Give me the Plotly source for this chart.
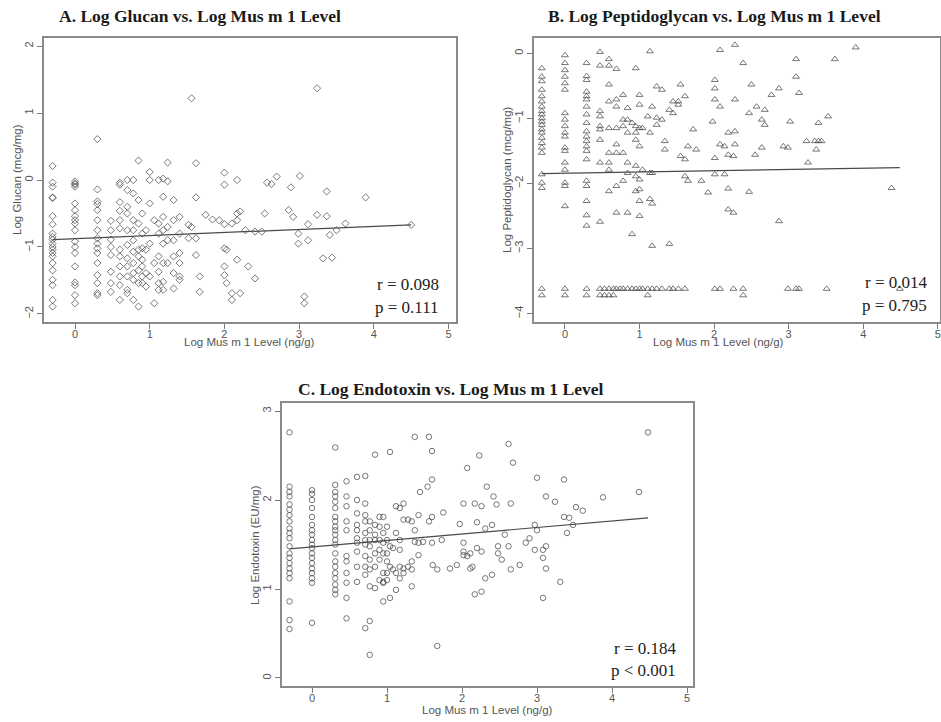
import plotly.graph_objects as go

# ---------------- Panel A: Log Glucan ----------------
glucan_x_levels = [-0.30, 0.00, 0.30, 0.48, 0.60, 0.70, 0.78, 0.85, 0.90, 0.95, 1.00, 1.06, 1.12, 1.18,
                   1.24, 1.32, 1.40, 1.52, 1.56, 1.62, 1.67, 1.75, 1.84, 1.93, 2.00, 2.03, 2.10, 2.17,
                   2.21, 2.28, 2.32, 2.41, 2.50, 2.54, 2.57, 2.63, 2.70, 2.86, 2.89, 2.92, 2.99, 3.01,
                   3.07, 3.12, 3.24, 3.32, 3.37, 3.41, 3.44, 3.50, 3.62, 3.89, 4.50]
glucan_y_by_level = [
    [0.21, -0.04, -0.10, -0.26, -0.27, -0.54, -0.66, -0.80, -0.85, -0.89, -0.95, -1.00, -1.04, -1.09, -1.14, -1.24, -1.35, -1.49, -1.57, -1.79, -1.89],
    [-0.02, -0.05, -0.07, -0.10, -0.35, -0.45, -0.54, -0.60, -0.65, -0.75, -0.92, -1.00, -1.09, -1.29, -1.53, -1.57, -1.72, -1.84],
    [0.61, -0.14, -0.32, -0.36, -0.45, -0.60, -0.75, -0.87, -0.95, -1.02, -1.09, -1.24, -1.42, -1.54, -1.69, -1.72],
    [-0.61, -0.75, -0.89, -1.00, -1.12, -1.37, -1.54, -1.67],
    [-0.04, -0.07, -0.33, -0.46, -0.60, -0.72, -1.04, -1.14, -1.29, -1.44, -1.57, -1.79],
    [0.00, -0.15, -0.40, -0.50, -0.75, -0.97, -1.17, -1.29, -1.44, -1.64, -1.69],
    [0.00, -0.20, -0.60, -0.75, -0.90, -1.07, -1.24, -1.39, -1.49, -1.79],
    [0.29, -0.30, -0.65, -1.04, -1.14, -1.35, -1.54, -1.89],
    [-0.50, -0.80, -1.02, -1.19, -1.29, -1.44, -1.54],
    [-0.75, -1.04, -1.39, -1.59],
    [0.12, 0.00, -0.35, -0.95, -1.44],
    [-0.60, -1.24, -1.84],
    [0.00, -0.65, -0.80, -1.14, -1.37, -1.54, -1.64],
    [0.02, -0.25, -0.55, -0.75, -0.95, -1.24, -1.52, -1.64],
    [0.26, -0.02, -0.70, -0.90, -1.24],
    [-0.30, -0.60, -0.90, -1.14, -1.39, -1.62],
    [-0.55, -0.80, -1.09, -1.24, -1.44, -1.49],
    [-0.87, -0.67],
    [1.22, -0.70],
    [0.25, -0.26, -0.87, -1.12],
    [-1.44, -1.67],
    [-0.52],
    [-0.59],
    [-0.60],
    [0.11, -0.07, -0.66, -1.02, -1.29, -1.42],
    [-1.04, -1.54],
    [-0.65, -1.69, -1.79],
    [0.00, -0.50, -0.60, -1.19],
    [-0.47, -1.69],
    [-0.75],
    [-1.29],
    [-0.77, -1.47],
    [-0.77],
    [-0.50],
    [-0.04],
    [-0.06],
    [0.05],
    [-0.45],
    [-0.11],
    [-0.55],
    [-0.80, -0.95],
    [0.06],
    [-1.74, -1.84],
    [-0.66, -0.90],
    [1.37, -0.52],
    [-1.17],
    [-0.17, -0.54],
    [-0.82],
    [-1.16],
    [-0.75],
    [-0.65],
    [-0.26],
    [-0.67],
]
glucan_fit = {"intercept": -0.876, "slope": 0.046, "x0": -0.30, "x1": 4.50}

# ---------------- Panel B: Log Peptidoglycan ----------------
pepti_x_levels = [-0.31, 0.00, 0.29, 0.47, 0.53, 0.59, 0.65, 0.69, 0.74, 0.78, 0.84, 0.90, 0.95, 1.00, 1.04,
                  1.11, 1.14, 1.17, 1.23, 1.30, 1.34, 1.40, 1.45, 1.52, 1.55, 1.61, 1.65, 1.72, 1.76,
                  1.83, 1.92, 1.98, 2.01, 2.08, 2.14, 2.19, 2.26, 2.28, 2.39, 2.47, 2.50, 2.55, 2.57,
                  2.64, 2.68, 2.77, 2.87, 2.93, 2.99, 3.02, 3.10, 3.14, 3.24, 3.26, 3.35, 3.37, 3.40,
                  3.44, 3.51, 3.53, 3.62, 3.90, 4.38, 4.49]
pepti_y_by_level = [
    [-0.23, -0.36, -0.43, -0.56, -0.66, -0.74, -0.82, -0.89, -0.94, -1.00, -1.05, -1.10, -1.17, -1.22, -1.30, -1.38, -1.45, -1.53, -1.86, -1.99, -2.07, -3.62, -3.72],
    [-0.03, -0.15, -0.26, -0.36, -0.46, -0.56, -0.92, -1.02, -1.12, -1.22, -1.28, -1.45, -1.50, -1.68, -1.79, -1.99, -2.04, -2.35, -3.62, -3.72],
    [-0.15, -0.35, -0.41, -0.59, -0.66, -0.71, -0.82, -0.94, -1.07, -1.20, -1.28, -1.35, -1.43, -1.50, -1.63, -1.96, -2.04, -2.27, -2.49, -2.65, -3.62, -3.72],
    [0.02, -0.19, -0.89, -0.97, -1.12, -1.17, -1.33, -1.68, -2.59, -3.62, -3.72],
    [-3.62, -3.72],
    [-0.09, -0.19, -0.48, -0.74, -1.15, -1.53, -1.68, -1.79, -2.12, -3.62, -3.72],
    [-3.62, -3.72],
    [-0.24, -0.71, -0.82, -1.15, -1.40, -1.53, -2.04, -2.45, -3.62],
    [-3.62],
    [-0.64, -1.02, -1.12, -1.53, -1.96, -3.62],
    [-0.84, -1.02, -1.22, -1.68, -1.84, -2.45, -3.62],
    [-1.07, -2.78, -3.62],
    [-0.23, -1.12, -1.22, -1.33, -1.73, -1.89, -2.12, -3.62],
    [-0.64, -0.79, -1.15, -1.43, -1.94, -2.09, -2.27, -2.50, -3.62],
    [-1.15, -1.79, -3.62],
    [-0.97, -3.62, -3.72],
    [0.03, -1.22, -1.84, -2.24],
    [-0.82, -1.84, -2.31, -2.96, -3.62],
    [-0.51, -0.99, -1.10, -3.62],
    [-0.56, -1.02, -3.62],
    [-1.35, -1.48],
    [-0.87, -2.93, -3.62],
    [-0.74, -0.92, -3.62],
    [-0.74, -0.79, -3.62],
    [-0.48, -1.58],
    [-0.66, -1.63, -1.89, -3.62],
    [-1.43, -1.96],
    [-1.17],
    [-1.48],
    [-1.96],
    [-2.14],
    [-1.05],
    [-0.41, -0.54, -0.71, -1.61, -1.86, -3.62],
    [0.05, -0.82, -1.40, -3.62],
    [-1.43, -1.86],
    [-1.22, -1.56, -2.08, -2.40],
    [-1.58, -2.45, -3.62],
    [0.13, -0.71, -1.20, -1.40],
    [-0.15, -3.62, -3.72],
    [-0.92, -2.13],
    [-0.48],
    [-1.56],
    [-0.82],
    [-1.02, -1.45],
    [-0.87, -1.10],
    [-0.64],
    [-0.54, -2.58],
    [-1.43],
    [-1.45, -3.62],
    [-1.05],
    [-0.09, -0.36, -3.62],
    [-0.61, -3.62],
    [-1.35],
    [-1.68],
    [-1.35],
    [-1.48],
    [-1.07, -1.35],
    [-1.35],
    [-3.62],
    [-0.97],
    [-0.09],
    [0.09],
    [-2.07],
    [-3.62],
]
pepti_fit = {"intercept": -1.843, "slope": 0.019, "x0": -0.31, "x1": 4.49}

# ---------------- Panel C: Log Endotoxin ----------------
endo_x_levels = [-0.30, 0.00, 0.31, 0.46, 0.60, 0.71, 0.77, 0.84, 0.90, 0.95, 1.00, 1.04, 1.08, 1.12,
                 1.17, 1.22, 1.28, 1.33, 1.37, 1.42, 1.44, 1.48, 1.54, 1.56, 1.60, 1.61, 1.67, 1.73,
                 1.75, 1.84, 1.93, 1.97, 2.02, 2.07, 2.11, 2.14, 2.17, 2.20, 2.23, 2.26, 2.31, 2.33,
                 2.40, 2.42, 2.46, 2.48, 2.53, 2.57, 2.62, 2.65, 2.68, 2.77, 2.85, 2.90, 2.97, 3.00,
                 3.08, 3.12, 3.24, 3.31, 3.36, 3.40, 3.43, 3.48, 3.52, 3.61, 3.88, 4.36, 4.48]
endo_y_by_level = [
    [2.76, 2.15, 2.09, 2.04, 1.95, 1.89, 1.83, 1.76, 1.68, 1.63, 1.57, 1.48, 1.40, 1.35, 1.29, 1.23, 1.18, 1.12, 0.86, 0.65, 0.55],
    [2.11, 2.07, 2.00, 1.91, 1.81, 1.72, 1.66, 1.61, 1.55, 1.50, 1.46, 1.40, 1.35, 1.29, 1.23, 1.18, 1.12, 1.07, 0.62],
    [2.59, 2.17, 2.09, 2.04, 1.98, 1.91, 1.81, 1.76, 1.70, 1.66, 1.61, 1.55, 1.50, 1.40, 1.31, 1.25, 1.18, 1.12, 1.05, 0.99, 0.94],
    [2.21, 2.04, 1.93, 1.76, 1.66, 1.37, 1.31, 1.18, 1.07, 0.90, 0.67],
    [2.26, 2.00, 1.85, 1.72, 1.66, 1.57, 1.52, 1.42, 1.25, 1.08],
    [2.27, 1.96, 1.83, 1.76, 1.63, 1.55, 1.50, 1.37, 1.25, 1.16, 0.56],
    [1.76, 1.66, 1.55, 1.48, 1.33, 1.22, 1.03, 0.64, 0.26],
    [2.51, 1.72, 1.61, 1.55, 1.40, 1.25, 1.01],
    [1.81, 1.70, 1.55, 1.44, 1.33, 1.10],
    [1.81, 1.63, 1.52, 1.40, 1.18, 1.08, 1.07, 0.86],
    [1.70, 1.55, 1.40, 1.31, 1.18, 1.10],
    [2.54, 1.48, 1.25, 0.90],
    [1.46, 1.22],
    [1.93, 1.63, 1.18, 0.99],
    [1.91, 1.55, 1.44, 1.25, 1.12],
    [1.96, 1.78, 1.23, 1.18],
    [1.78, 1.25],
    [1.76, 1.31, 1.22, 1.03],
    [2.71, 1.66, 1.53],
    [1.83, 1.52, 1.38],
    [2.09],
    [1.53],
    [2.15],
    [2.71, 1.76],
    [2.55, 2.23, 1.81, 1.52],
    [1.27],
    [1.22, 0.36],
    [1.55],
    [1.86],
    [1.23],
    [1.27],
    [1.73],
    [1.96, 1.52, 1.42, 1.38],
    [2.36, 1.37],
    [1.40, 1.23],
    [1.25],
    [1.96, 0.94],
    [1.75, 1.46],
    [2.50],
    [1.93, 1.42, 0.97],
    [1.68, 1.12],
    [2.15],
    [1.72, 1.16],
    [2.04],
    [1.95],
    [1.48, 1.40],
    [1.33],
    [1.61],
    [2.63, 1.48],
    [1.96, 1.22],
    [2.42],
    [1.27],
    [1.52],
    [1.57],
    [1.72, 1.44],
    [2.25, 1.66],
    [1.44, 1.35, 0.90],
    [2.04, 1.48, 1.23],
    [1.98],
    [1.08],
    [2.23, 1.81],
    [1.63],
    [1.80],
    [1.72],
    [1.92],
    [1.88],
    [2.03],
    [2.09],
    [2.76],
]
endo_fit = {"intercept": 1.472, "slope": 0.073, "x0": -0.30, "x1": 4.48}

x_ticks = [0, 1, 2, 3, 4, 5]
glucan_y_ticks = [-2, -1, 0, 1, 2]
pepti_y_ticks = [-4, -3, -2, -1, 0]
endo_y_ticks = [0, 1, 2, 3]

titles = ["A. Log Glucan vs. Log Mus m 1 Level",
          "B. Log Peptidoglycan vs. Log Mus m 1 Level",
          "C. Log Endotoxin vs. Log Mus m 1 Level"]
y_titles = ["Log Glucan (mcg/mg)", "Log Peptidoglycan (mcg/mg)", "Log Endotoxin (EU/mg)"]
x_title = "Log Mus m 1 Level (ng/g)"
stats = [("r = 0.098", "p = 0.111"), ("r = 0.014", "p = 0.795"), ("r = 0.184", "p < 0.001")]


def flatten(levels, ys_by_level):
    xs, ys = [], []
    for lv, ys_l in zip(levels, ys_by_level):
        for v in ys_l:
            xs.append(lv)
            ys.append(v)
    return xs, ys


W, H = 941, 722
fig = go.Figure()

panels = [
    dict(levels=glucan_x_levels, ys=glucan_y_by_level, fit=glucan_fit, symbol="diamond-open", size=5.5,
         xa="x", ya="y", xdom=[44 / W, 456 / W], ydom=[1 - 322 / H, 1 - 38 / H],
         xr=[-0.415, 5.10], yr=[-2.12, 2.12], yt=glucan_y_ticks),
    dict(levels=pepti_x_levels, ys=pepti_y_by_level, fit=pepti_fit, symbol="triangle-up-open", size=6,
         xa="x2", ya="y2", xdom=[534 / W, 940 / W], ydom=[1 - 322 / H, 1 - 38 / H],
         xr=[-0.415, 5.03], yr=[-4.13, 0.235], yt=pepti_y_ticks),
    dict(levels=endo_x_levels, ys=endo_y_by_level, fit=endo_fit, symbol="circle-open", size=5.5,
         xa="x3", ya="y3", xdom=[282 / W, 693 / W], ydom=[1 - 686 / H, 1 - 403 / H],
         xr=[-0.40, 5.08], yr=[-0.09, 3.09], yt=endo_y_ticks),
]

layout_axes = {}
for i, p in enumerate(panels):
    xs, ys = flatten(p["levels"], p["ys"])
    fig.add_trace(go.Scatter(
        x=xs, y=ys, mode="markers", xaxis=p["xa"], yaxis=p["ya"], showlegend=False,
        marker=dict(symbol=p["symbol"], size=p["size"], color="rgba(75,75,75,0.75)",
                    line=dict(width=1, color="rgba(75,75,75,0.75)")),
        hoverinfo="skip"))
    f = p["fit"]
    fx = [f["x0"], f["x1"]]
    fy = [f["intercept"] + f["slope"] * v for v in fx]
    fig.add_trace(go.Scatter(x=fx, y=fy, mode="lines", xaxis=p["xa"], yaxis=p["ya"], showlegend=False,
                             line=dict(color="#4a4a4a", width=1.2), hoverinfo="skip"))
    xkey = "xaxis" if i == 0 else f"xaxis{i + 1}"
    ykey = "yaxis" if i == 0 else f"yaxis{i + 1}"
    common = dict(showgrid=False, zeroline=False, showline=True, linecolor="#8a8a8a", linewidth=1.5,
                  mirror=True, ticks="outside", ticklen=5, tickwidth=1, tickcolor="#7a7a7a",
                  tickfont=dict(family="Liberation Sans, Arial, sans-serif", size=11, color="#555555"))
    layout_axes[xkey] = dict(domain=p["xdom"], range=p["xr"], tickvals=x_ticks, ticklabelstandoff=-4,
                             anchor=p["ya"].replace("yaxis", "y"), **common)
    layout_axes[ykey] = dict(domain=p["ydom"], range=p["yr"], tickvals=p["yt"], tickangle=-90,
                             anchor=p["xa"].replace("xaxis", "x"), **common)

annotations = []
serif_bold = dict(family="Liberation Serif, Times New Roman, serif", size=17.5, color="#1a1a1a")
serif = dict(family="Liberation Serif, Times New Roman, serif", size=17, color="#222222")
sans = dict(family="Liberation Sans, Arial, sans-serif", size=11.5, color="#555555")

# panel titles
for t, (cx, cy) in zip(titles, [(200, 16), (714, 16), (450, 389)]):
    annotations.append(dict(text="<b>" + t + "</b>", x=cx / W, y=1 - cy / H, xref="paper", yref="paper",
                            showarrow=False, font=serif_bold, xanchor="center", yanchor="middle"))
# y axis titles
for t, (cx, cy) in zip(y_titles, [(17, 180), (507, 180), (255, 545)]):
    annotations.append(dict(text=t, x=cx / W, y=1 - cy / H, xref="paper", yref="paper", showarrow=False,
                            font=sans, textangle=-90, xanchor="center", yanchor="middle"))
# x axis titles
for (cx, cy) in [(250, 342), (718, 342), (487, 710)]:
    annotations.append(dict(text=x_title, x=cx / W, y=1 - cy / H, xref="paper", yref="paper",
                            showarrow=False, font=sans, xanchor="center", yanchor="middle"))
# statistics
for (r, pv), (rx, ry1, ry2) in zip(stats, [(441, 284, 307), (929, 283, 305), (678, 648, 670)]):
    annotations.append(dict(text=r, x=rx / W, y=1 - ry1 / H, xref="paper", yref="paper", showarrow=False,
                            font=serif, xanchor="right", yanchor="middle"))
    annotations.append(dict(text=pv, x=rx / W, y=1 - ry2 / H, xref="paper", yref="paper", showarrow=False,
                            font=serif, xanchor="right", yanchor="middle"))

fig.update_layout(width=W, height=H, margin=dict(l=0, r=0, t=0, b=0), plot_bgcolor="white",
                  paper_bgcolor="white", annotations=annotations, **layout_axes)

fig.write_html("out.html", config={"displayModeBar": False},
               post_script="document.body.style.margin='0';document.body.style.overflow='hidden';")
